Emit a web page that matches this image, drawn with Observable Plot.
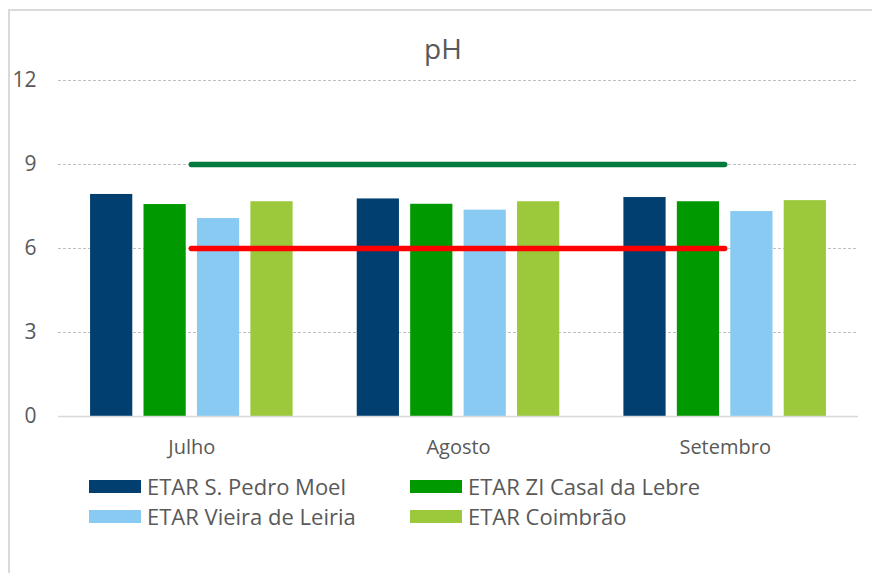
<!DOCTYPE html>
<html>
<head>
<meta charset="utf-8">
<script src="https://cdn.jsdelivr.net/npm/d3@7"></script>
<script src="https://cdn.jsdelivr.net/npm/@observablehq/plot@0.6"></script>
<style>
  html, body { margin: 0; padding: 0; background: #fff; }
  body { width: 872px; height: 573px; position: relative; overflow: hidden; font-family: "Open Sans", sans-serif; color: #595959; }
  #frame { position: absolute; left: 8px; top: 9px; width: 900px; height: 600px; border-left: 2px solid #d9d9d9; border-top: 2px solid #d9d9d9; }
  #title { position: absolute; left: 0; top: 34px; width: 886px; text-align: center; font-size: 28px; line-height: 1; }
  #chart { position: absolute; left: 0; top: 65px; }
  #chart svg g[aria-label^="y-axis"], #chart svg g[aria-label^="y-axis"] text { font-size: 21px !important; }
  #chart svg g[aria-label^="x-axis"], #chart svg g[aria-label^="x-axis"] text { font-size: 20px !important; }
  .lg-sw { position: absolute; width: 52px; height: 13px; }
  .lg-tx { position: absolute; font-size: 22px; line-height: 1; white-space: nowrap; }
</style>
</head>
<body>
<div id="frame"></div>
<div id="title">pH</div>
<div id="chart"></div>
<div id="legend"></div>
<script>
const months = ["Julho", "Agosto", "Setembro"];
const sites = ["ETAR S. Pedro Moel", "ETAR ZI Casal da Lebre", "ETAR Vieira de Leiria", "ETAR Coimbrão"];
const colors = ["#003f6f", "#009a00", "#89caf2", "#9cc83b"];
const sPedroMoel = [7.93, 7.77, 7.82];
const casalLebre = [7.57, 7.58, 7.67];
const vieiraLeiria = [7.07, 7.37, 7.32];
const coimbrao = [7.67, 7.67, 7.71];
const yTicks = [0, 3, 6, 9, 12];
const limits = [
  { name: "máximo", value: 9, color: "#007a3d" },
  { name: "mínimo", value: 6, color: "#ff0000" }
];

const series = [sPedroMoel, casalLebre, vieiraLeiria, coimbrao];
const rows = [];
months.forEach((m, mi) => {
  sites.forEach((s, si) => {
    rows.push({ month: m, mi, site: s, value: series[si][mi], color: colors[si] });
  });
});

// inner band scale positions each site's bar within a month slot
const inner = d3.scaleBand(sites, [-0.5, 0.5]).paddingInner(0.21).paddingOuter(0.6);

const plot = Plot.plot({
  width: 872,
  height: 411,
  marginLeft: 58,
  marginRight: 14,
  marginTop: 15,
  marginBottom: 60,
  style: { fontFamily: "Open Sans, sans-serif", fontSize: "20px", color: "#595959", background: "transparent", overflow: "visible" },
  x: { domain: [-0.5, months.length - 0.5], ticks: months.map((_, i) => i), tickFormat: i => months[i], tickSize: 0, tickPadding: 23, label: null },
  y: { domain: [0, 12], ticks: yTicks, tickSize: 0, tickPadding: 22, label: null },
  color: { type: "identity" },
  marks: [
    Plot.ruleY(yTicks.filter(t => t > 0), { stroke: "#c0c0c0", strokeWidth: 1, strokeDasharray: "3,2" }),
    Plot.rect(rows, {
      x1: d => d.mi + inner(d.site),
      x2: d => d.mi + inner(d.site) + inner.bandwidth(),
      y1: 0,
      y2: "value",
      fill: "color"
    }),
    Plot.ruleY([0], { stroke: "#d9d9d9", strokeWidth: 1.5 }),
    Plot.ruleY(limits, { y: "value", x1: 0, x2: months.length - 1, stroke: "color", strokeWidth: 5.5, strokeLinecap: "round" })
  ]
});
document.getElementById("chart").appendChild(plot);

// legend
const legend = document.getElementById("legend");
const colX = [89, 410];
const rowY = [480, 510];
sites.forEach((s, i) => {
  const c = i % 2, r = Math.floor(i / 2);
  const sw = document.createElement("div");
  sw.className = "lg-sw";
  sw.style.left = colX[c] + "px";
  sw.style.top = rowY[r] + "px";
  sw.style.background = colors[i];
  legend.appendChild(sw);
  const tx = document.createElement("div");
  tx.className = "lg-tx";
  tx.style.left = (colX[c] + 58) + "px";
  tx.style.top = (rowY[r] - 5.5) + "px";
  tx.textContent = s;
  legend.appendChild(tx);
});
</script>
</body>
</html>
